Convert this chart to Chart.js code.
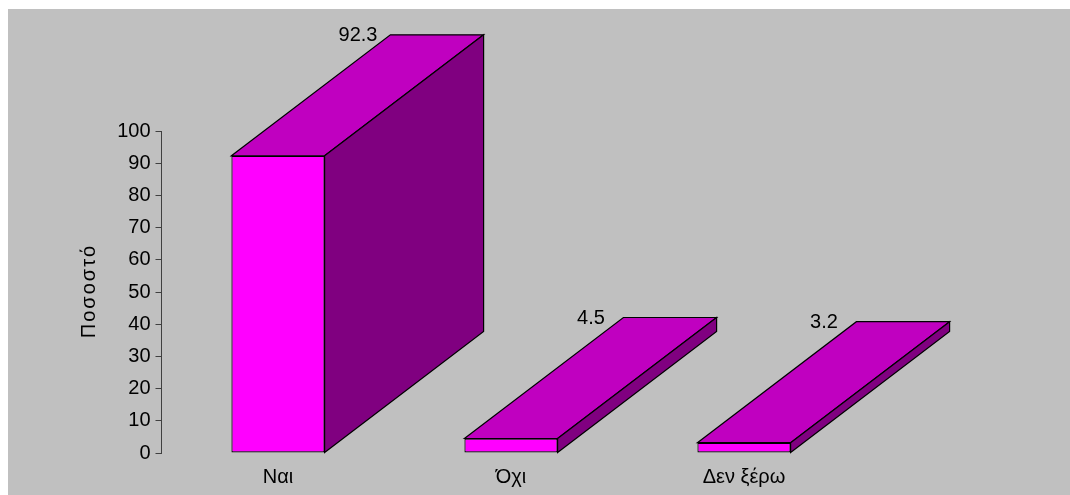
<!DOCTYPE html>
<html>
<head>
<meta charset="utf-8">
<style>
  html, body { margin: 0; background: #fff; overflow: hidden; }
  #chart { position: absolute; left: 8px; top: 9px; background: #c0c0c0; }
</style>
<script src="https://cdn.jsdelivr.net/npm/chart.js@4"></script>
</head>
<body>
<canvas id="chart" width="1062" height="486"></canvas>
<script>
// Data
const categories = ['Ναι', 'Όχι', 'Δεν ξέρω'];
const percentages = [92.3, 4.5, 3.2];
const percentLabels = ['92.3', '4.5', '3.2'];
const axisTitle = 'Ποσοστό';

const FONT = '"Liberation Sans", Arial, sans-serif';
const DEPTH_X = 159;
const DEPTH_Y = 121;

// Draws the top and side faces of each bar, the value labels and the spaced-out axis title
const boxFaces = {
  id: 'boxFaces',
  afterDatasetsDraw(chart) {
    const ctx = chart.ctx;
    const bars = chart.getDatasetMeta(0).data;
    ctx.save();
    ctx.strokeStyle = '#000';
    ctx.lineWidth = 1.2;
    ctx.lineJoin = 'miter';
    bars.forEach((bar, i) => {
      const left = bar.x - bar.width / 2;
      const right = bar.x + bar.width / 2;
      const top = bar.y;
      const base = bar.base;

      // top face
      ctx.beginPath();
      ctx.moveTo(left, top);
      ctx.lineTo(left + DEPTH_X, top - DEPTH_Y);
      ctx.lineTo(right + DEPTH_X, top - DEPTH_Y);
      ctx.lineTo(right, top);
      ctx.closePath();
      ctx.fillStyle = '#c000c0';
      ctx.fill();
      ctx.stroke();

      // side face
      ctx.beginPath();
      ctx.moveTo(right, top);
      ctx.lineTo(right + DEPTH_X, top - DEPTH_Y);
      ctx.lineTo(right + DEPTH_X, base - DEPTH_Y);
      ctx.lineTo(right, base);
      ctx.closePath();
      ctx.fillStyle = '#800080';
      ctx.fill();
      ctx.stroke();

      // value label
      ctx.fillStyle = '#000';
      ctx.font = '20px ' + FONT;
      ctx.textAlign = 'center';
      ctx.textBaseline = 'middle';
      ctx.fillText(percentLabels[i], bar.x + 80, top - DEPTH_Y + 1);
    });

    // y axis title, chart.js has no letter spacing option
    const yScale = chart.scales.y;
    ctx.translate(81, (yScale.top + yScale.bottom) / 2 - 1);
    ctx.rotate(-Math.PI / 2);
    ctx.letterSpacing = '2px';
    ctx.fillStyle = '#000';
    ctx.font = '20px ' + FONT;
    ctx.textAlign = 'center';
    ctx.textBaseline = 'middle';
    ctx.fillText(axisTitle, 0, 0);
    ctx.restore();
  }
};

new Chart(document.getElementById('chart'), {
  type: 'bar',
  data: {
    labels: categories,
    datasets: [{
      data: percentages,
      backgroundColor: '#ff00ff',
      borderColor: '#000',
      borderWidth: 1.2,
      borderSkipped: false,
      categoryPercentage: 0.4,
      barPercentage: 1
    }]
  },
  options: {
    responsive: false,
    animation: false,
    layout: { padding: { top: 122, right: 209.5, bottom: 0, left: 0 } },
    plugins: { legend: { display: false }, tooltip: { enabled: false } },
    scales: {
      x: {
        grid: { display: false },
        border: { display: false },
        afterFit(scale) { scale.height = 42; },
        ticks: { color: '#000', font: { family: FONT, size: 20 }, padding: 4, maxRotation: 0 }
      },
      y: {
        min: 0,
        max: 100,
        afterFit(scale) { scale.width = 153.5; },
        grid: { drawOnChartArea: false, tickLength: 6, color: '#404040' },
        border: { color: '#404040' },
        ticks: { stepSize: 10, color: '#000', font: { family: FONT, size: 20 }, padding: 5 }
      }
    }
  },
  plugins: [boxFaces]
});
</script>
</body>
</html>
